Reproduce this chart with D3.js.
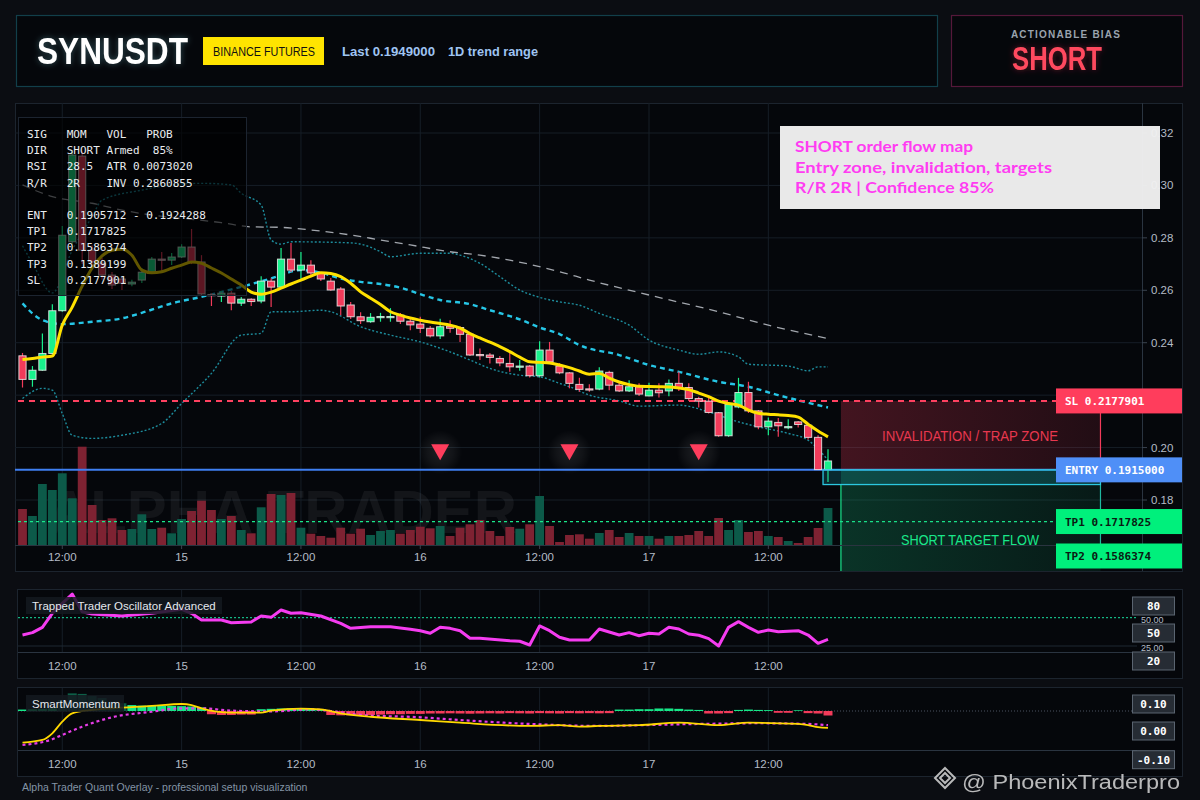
<!DOCTYPE html>
<html>
<head>
<meta charset="utf-8">
<script src="https://cdn.jsdelivr.net/npm/d3@7"></script>
<style>
body{margin:0;background:#0b0d12;}
svg{display:block;font-family:"Liberation Sans",Arial,sans-serif;}
</style>
</head>
<body>
<svg id="chart"></svg>
<script>
// hourly candles
var open  = [0.2350,0.2260,0.2295,0.2359,0.2522,0.2785,0.3112,0.2753,0.2704,0.2658,
             0.2643,0.2624,0.2639,0.2669,0.2719,0.2715,0.2727,0.2765,0.2708,0.2584,
             0.2578,0.2589,0.2551,0.2566,0.2559,0.2635,0.2612,0.2719,0.2677,0.2696,
             0.2666,0.2635,0.2605,0.2544,0.2499,0.2480,0.2499,0.2498,0.2505,0.2482,
             0.2471,0.2455,0.2426,0.2463,0.2458,0.2432,0.2355,0.2353,0.2340,0.2321,
             0.2310,0.2311,0.2274,0.2372,0.2311,0.2285,0.2241,0.2224,0.2223,0.2287,
             0.2238,0.2216,0.2232,0.2197,0.2219,0.2216,0.2245,0.2229,0.2187,0.2177,
             0.2133,0.2045,0.2155,0.2210,0.2140,0.2079,0.2096,0.2078,0.2098,0.2085,
             0.2039,0.1916]
var high  = [0.2361,0.2311,0.2435,0.2547,0.2845,0.3135,0.3130,0.2772,0.2723,0.2670,
             0.2650,0.2640,0.2685,0.2727,0.2746,0.2742,0.2776,0.2834,0.2734,0.2589,
             0.2597,0.2597,0.2574,0.2570,0.2654,0.2646,0.2761,0.2780,0.2746,0.2715,
             0.2670,0.2647,0.2613,0.2555,0.2516,0.2513,0.2514,0.2532,0.2513,0.2494,
             0.2499,0.2464,0.2491,0.2486,0.2463,0.2437,0.2378,0.2361,0.2349,0.2361,
             0.2334,0.2315,0.2406,0.2403,0.2322,0.2288,0.2266,0.2242,0.2306,0.2293,
             0.2246,0.2257,0.2245,0.2247,0.2245,0.2260,0.2289,0.2245,0.2194,0.2194,
             0.2136,0.2166,0.2266,0.2251,0.2143,0.2115,0.2113,0.2108,0.2101,0.2088,
             0.2047,0.1994]
var low   = [0.2229,0.2232,0.2293,0.2355,0.2518,0.2775,0.2700,0.2688,0.2640,0.2605,
             0.2601,0.2615,0.2628,0.2665,0.2669,0.2696,0.2723,0.2700,0.2582,0.2540,
             0.2555,0.2524,0.2540,0.2540,0.2551,0.2536,0.2608,0.2670,0.2643,0.2650,
             0.2635,0.2598,0.2505,0.2490,0.2471,0.2476,0.2480,0.2480,0.2471,0.2448,
             0.2437,0.2420,0.2414,0.2438,0.2403,0.2349,0.2334,0.2321,0.2310,0.2289,
             0.2293,0.2267,0.2267,0.2320,0.2280,0.2226,0.2213,0.2213,0.2219,0.2219,
             0.2212,0.2212,0.2197,0.2196,0.2191,0.2196,0.2216,0.2178,0.2153,0.2130,
             0.2041,0.2041,0.2150,0.2132,0.2070,0.2047,0.2041,0.2070,0.2077,0.2031,
             0.1914,0.1869]
var close = [0.2260,0.2295,0.2359,0.2522,0.2810,0.3116,0.2753,0.2708,0.2658,0.2620,
             0.2627,0.2631,0.2669,0.2719,0.2717,0.2727,0.2765,0.2708,0.2586,0.2582,
             0.2589,0.2551,0.2566,0.2557,0.2635,0.2612,0.2719,0.2677,0.2696,0.2666,
             0.2643,0.2601,0.2540,0.2499,0.2484,0.2497,0.2500,0.2500,0.2482,0.2468,
             0.2455,0.2426,0.2461,0.2455,0.2432,0.2353,0.2353,0.2344,0.2323,0.2308,
             0.2311,0.2274,0.2372,0.2327,0.2285,0.2245,0.2222,0.2223,0.2292,0.2238,
             0.2216,0.2232,0.2204,0.2219,0.2209,0.2245,0.2229,0.2187,0.2177,0.2134,
             0.2045,0.2164,0.2210,0.2140,0.2079,0.2101,0.2083,0.2080,0.2088,0.2039,
             0.1916,0.1949]
var volume = [360,290,610,550,717,467,983,400,250,267,
              150,160,307,160,173,117,260,340,443,350,
              260,290,150,117,377,510,500,520,173,113,
              90,73,173,113,163,100,140,150,113,150,
              183,167,190,90,173,207,250,140,90,180,
              163,207,490,190,30,100,107,63,120,150,
              80,120,90,90,63,90,90,100,140,90,
              270,150,250,130,140,90,80,40,20,80,
              170,370]

// yellow fast average, one value per candle
var fastMa = [0.2336,0.2340,0.2345,0.2349,0.2467,0.2536,0.2616,0.2685,0.2731,0.2753,
              0.2757,0.2734,0.2677,0.2667,0.2671,0.2684,0.2696,0.2708,0.2703,0.2685,
              0.2666,0.2643,0.2620,0.2593,0.2585,0.2593,0.2608,0.2624,0.2639,0.2654,
              0.2667,0.2664,0.2652,0.2627,0.2594,0.2570,0.2546,0.2518,0.2505,0.2494,
              0.2486,0.2479,0.2473,0.2467,0.2456,0.2435,0.2418,0.2402,0.2385,0.2366,
              0.2345,0.2327,0.2325,0.2323,0.2315,0.2305,0.2292,0.2280,0.2283,0.2265,
              0.2250,0.2240,0.2234,0.2233,0.2232,0.2231,0.2227,0.2221,0.2208,0.2194,
              0.2177,0.2168,0.2162,0.2143,0.2131,0.2127,0.2125,0.2122,0.2116,0.2089,
              0.2063,0.2041]

// [candle index, price] vertices
var midBand = [[0,0.2550],[2,0.2486],[4,0.2471],[7,0.2480],[10,0.2493],[12,0.2514],[15,0.2550],
  [18,0.2575],[22,0.2613],[25,0.2645],[28,0.2677],[30,0.2667],[32,0.2645],[34,0.2632],[36,0.2624],
  [38,0.2610],[40,0.2585],[42,0.2563],[45,0.2547],[47,0.2524],[50,0.2489],[52,0.2458],[54,0.2433],
  [56,0.2391],[60,0.2353],[63,0.2315],[66,0.2289],[70,0.2251],[73,0.2232],[76,0.2200],[79,0.2171],[81,0.2153]]
var upperBand = [[0,0.2770],[1,0.2703],[3,0.2590],[5,0.2753],[7,0.2881],[8,0.2944],[12,0.2982],
  [15,0.3002],[18,0.3008],[21,0.3002],[22,0.2970],[24,0.2925],[25,0.2792],[26,0.2776],[27,0.2785],
  [33,0.2781],[34,0.2776],[36,0.2747],[37,0.2728],[40,0.2741],[43,0.2741],[44,0.2734],[46,0.2703],
  [48,0.2652],[50,0.2601],[52,0.2573],[54,0.2556],[56,0.2543],[58,0.2512],[61,0.2467],[63,0.2410],
  [66,0.2372],[68,0.2356],[70,0.2365],[72,0.2346],[73,0.2318],[77,0.2311],[79,0.2293],[80,0.2308],[81,0.2308]]
var lowerBand = [[0,0.2187],[2,0.2226],[3,0.2219],[4,0.2130],[5,0.2047],[7,0.2035],[10,0.2047],
  [14,0.2092],[16,0.2168],[19,0.2283],[22,0.2429],[24,0.2436],[25,0.2518],[27,0.2518],[30,0.2524],
  [31,0.2518],[34,0.2461],[37,0.2429],[40,0.2403],[43,0.2365],[45,0.2334],[47,0.2302],[50,0.2276],
  [52,0.2270],[54,0.2245],[55,0.2232],[57,0.2200],[60,0.2178],[62,0.2158],[66,0.2162],[69,0.2136],
  [72,0.2098],[74,0.2079],[77,0.2054],[79,0.2028],[81,0.1952]]
var slowMa = [[0,0.3002],[3,0.2957],[7,0.2932],[10,0.2906],[13,0.2887],[17,0.2871],[20,0.2858],
  [23,0.2842],[26,0.2840],[29,0.2830],[33,0.2811],[36,0.2792],[39,0.2773],[43,0.2747],[46,0.2734],
  [49,0.2715],[54,0.2671],[57,0.2639],[63,0.2582],[70,0.2518],[75,0.2467],[81,0.2416]]

// trapped trader oscillator
var oscPoints = [[0,34.7],[1,36.8],[2,41.5],[3,53.9],[4,62.7],[5,70.9],[6,55.3],[7,53.3],[10,51.5],
  [13,53.9],[16,57.4],[17,53.9],[18,48],[20,48],[21,45.6],[23,46.2],[24,51.5],[25,50.3],[26,56.8],
  [27,53.9],[28,54.4],[30,51.5],[32,45],[33,40.6],[35,42],[37,42],[39,39.7],[40,38.5],[41,36.2],
  [42,41.5],[43,40.6],[44,38.5],[45,31.8],[46,31.8],[49,29.7],[50,29.2],[51,25.9],[52,42.7],[53,38.5],
  [54,32.7],[55,30.3],[57,30.3],[58,40.0],[60,34.7],[61,36.8],[62,34.1],[63,36.2],[64,35.6],[65,41.5],
  [66,40],[67,35.6],[68,34.5],[69,31.5],[70,25],[71,41.5],[72,46.5],[73,41.5],[74,37.1],[75,39.1],
  [76,37.6],[78,38.5],[79,34.7],[80,27.4],[81,30.9]]

// smart momentum
var momHist = [0.008,0.010,0.012,0.015,0.061,0.098,0.095,0.083,0.072,0.052,
               0.043,0.033,0.030,0.030,0.028,0.028,0.027,0.025,0.020,-0.018,
               -0.022,-0.022,-0.020,-0.020,0.010,0.012,0.014,0.015,0.014,0.012,
               0.010,-0.022,-0.024,-0.024,-0.022,-0.022,-0.020,-0.018,-0.018,-0.016,
               -0.016,-0.014,-0.014,-0.013,-0.014,-0.015,-0.014,-0.013,-0.014,-0.012,
               -0.013,-0.014,-0.012,-0.013,-0.014,-0.012,-0.013,-0.012,-0.013,-0.012,
               0.008,0.008,0.010,0.010,0.014,0.014,0.012,0.008,0.006,-0.014,
               -0.014,-0.012,0.006,0.008,0.006,0.005,-0.010,-0.010,0.004,-0.012,
               -0.014,-0.025]
var momFast = [[0,-0.176],[2,-0.161],[3,-0.124],[4,-0.059],[5,-0.013],[7,0.006],[9,0.015],[13,0.028],
  [16,0.039],[17,0.033],[18,0.015],[21,-0.009],[24,-0.009],[25,0.002],[28,0.013],[30,0.009],[32,-0.013],
  [35,-0.032],[40,-0.05],[44,-0.065],[51,-0.083],[54,-0.078],[56,-0.087],[58,-0.083],[62,-0.079],
  [66,-0.065],[70,-0.079],[73,-0.065],[78,-0.072],[79,-0.078],[80,-0.090],[81,-0.094]]
var momSlow = [[0,-0.189],[3,-0.157],[4,-0.133],[6,-0.087],[9,-0.035],[13,-0.004],[16,0.015],[18,0.015],
  [21,0.002],[25,-0.002],[29,0.009],[31,0],[34,-0.022],[40,-0.035],[44,-0.05],[51,-0.072],[58,-0.083],
  [62,-0.079],[68,-0.072],[74,-0.068],[79,-0.072],[81,-0.079]]

// time axis
var tickIdx = [4,16,28,40,52,63,75]
var tickLabels = ["12:00","15","12:00","16","12:00","17","12:00"]
var priceTicks = [0.18,0.20,0.22,0.24,0.26,0.28,0.30,0.32]

// setup levels
var slPrice = 0.2177901
var entryPrice = 0.1915000
var tp1Price = 0.1717825
var tp2Price = 0.1586374
var tp3Price = 0.1389199
var entryBox = [0.1859, 0.1915]
var zoneBars = [82.3, 108.4]
var entryBoxBars = [80.5, 108.4]
var signalIdx = [42, 55, 68]
var signalPrice = 0.1982

var infoRows = ["SIG   MOM   VOL   PROB",
                "DIR   SHORT Armed  85%",
                "RSI   28.5  ATR 0.0073020",
                "R/R   2R    INV 0.2860855",
                "",
                "ENT   0.1905712 - 0.1924288",
                "TP1   0.1717825",
                "TP2   0.1586374",
                "TP3   0.1389199",
                "SL    0.2177901"]
var noteRows = ["SHORT order flow map", "Entry zone, invalidation, targets", "R/R 2R | Confidence 85%"]
var noteLens = [178, 257, 199]


var upCol = "#19f08c"
var downCol = "#f23b5a"
var gridCol = "#161e27"
var labelCol = "#b4bcc6"

var svg = d3.select("#chart").attr("width", 1200).attr("height", 800)
var defs = svg.append("defs")

var x = d3.scaleLinear().domain([0, 81]).range([22.5, 828])
var y = d3.scaleLinear().domain([0.18, 0.32]).range([500, 133])
var yVol = d3.scaleLinear().domain([0, 1000]).range([545, 445])
var yOsc = d3.scaleLinear().domain([25, 50]).range([646, 617.7])
var yMom = d3.scaleLinear().domain([0, 0.1]).range([711, 693])

defs.append("clipPath").attr("id", "plotClip").append("rect")
	.attr("x", 15).attr("y", 103).attr("width", 1127).attr("height", 442)
defs.append("clipPath").attr("id", "paneClip").append("rect")
	.attr("x", 15).attr("y", 103).attr("width", 1168).attr("height", 468)

function makeGlow(id, dev, col, op) {
	var f = defs.append("filter").attr("id", id).attr("x", "-20%").attr("y", "-40%").attr("width", "140%").attr("height", "180%")
	f.append("feGaussianBlur").attr("in", "SourceAlpha").attr("stdDeviation", dev).attr("result", "b")
	f.append("feFlood").attr("flood-color", col).attr("flood-opacity", op)
	f.append("feComposite").attr("in2", "b").attr("operator", "in").attr("result", "g")
	var m = f.append("feMerge")
	m.append("feMergeNode").attr("in", "g")
	m.append("feMergeNode").attr("in", "SourceGraphic")
}
makeGlow("glowW", 3, "#7fd8e8", 0.35)
makeGlow("glowR", 3, "#ff3050", 0.35)

var halo = defs.append("radialGradient").attr("id", "halo")
halo.append("stop").attr("offset", "0%").attr("stop-color", "#ffffff").attr("stop-opacity", 0.10)
halo.append("stop").attr("offset", "60%").attr("stop-color", "#ffffff").attr("stop-opacity", 0.05)
halo.append("stop").attr("offset", "100%").attr("stop-color", "#ffffff").attr("stop-opacity", 0)

var redZoneGrad = defs.append("linearGradient").attr("id", "redZone")
redZoneGrad.append("stop").attr("offset", "0%").attr("stop-color", "#f23b5a").attr("stop-opacity", 0.26)
redZoneGrad.append("stop").attr("offset", "100%").attr("stop-color", "#f23b5a").attr("stop-opacity", 0.12)
var greenZoneGrad = defs.append("linearGradient").attr("id", "greenZone")
greenZoneGrad.append("stop").attr("offset", "0%").attr("stop-color", "#19c080").attr("stop-opacity", 0.24)
greenZoneGrad.append("stop").attr("offset", "100%").attr("stop-color", "#19c080").attr("stop-opacity", 0.10)


// ---------- header ----------
svg.append("rect").attr("x", 16.5).attr("y", 15.5).attr("width", 921).attr("height", 71)
	.attr("fill", "#05070b").attr("stroke", "#123f4a").attr("stroke-width", 1.2)
svg.append("text").attr("x", 37).attr("y", 64).attr("fill", "#ffffff")
	.attr("font-size", 36).attr("font-weight", "bold").attr("font-family", "'Liberation Sans Narrow','Liberation Sans',sans-serif")
	.attr("textLength", 151).attr("lengthAdjust", "spacingAndGlyphs")
	.attr("filter", "url(#glowW)").text("SYNUSDT")
svg.append("rect").attr("x", 203).attr("y", 37).attr("width", 121).attr("height", 28).attr("fill", "#ffe400")
svg.append("text").attr("x", 213).attr("y", 56).attr("fill", "#111").attr("font-size", 13)
	.attr("textLength", 102).attr("lengthAdjust", "spacingAndGlyphs").text("BINANCE FUTURES")
svg.append("text").attr("x", 342).attr("y", 56).attr("fill", "#9fc4f2").attr("font-size", 13).attr("font-weight", "bold")
	.attr("textLength", 93).attr("lengthAdjust", "spacingAndGlyphs").text("Last 0.1949000")
svg.append("text").attr("x", 448).attr("y", 56).attr("fill", "#9fc4f2").attr("font-size", 13).attr("font-weight", "bold")
	.attr("textLength", 90).attr("lengthAdjust", "spacingAndGlyphs").text("1D trend range")

svg.append("rect").attr("x", 951.5).attr("y", 15.5).attr("width", 231).attr("height", 71)
	.attr("fill", "#05070b").attr("stroke", "#55183a").attr("stroke-width", 1.2)
svg.append("text").attr("x", 1066).attr("y", 38).attr("text-anchor", "middle").attr("fill", "#9aa3ae")
	.attr("font-size", 10).attr("font-weight", "bold").attr("letter-spacing", 1.2).text("ACTIONABLE BIAS")
svg.append("text").attr("x", 1012).attr("y", 70).attr("fill", "#ff4a5e").attr("font-size", 34).attr("font-weight", "bold")
	.attr("font-family", "'Liberation Sans Narrow','Liberation Sans',sans-serif")
	.attr("textLength", 90).attr("lengthAdjust", "spacingAndGlyphs").attr("filter", "url(#glowR)").text("SHORT")


// ---------- price pane ----------
svg.append("rect").attr("x", 15.5).attr("y", 103.5).attr("width", 1167).attr("height", 468)
	.attr("fill", "#05070b").attr("stroke", "#1c242e")

var plot = svg.append("g").attr("clip-path", "url(#plotClip)")

plot.selectAll(".hgrid").data(priceTicks).join("line")
	.attr("x1", 15).attr("x2", 1142)
	.attr("y1", function(d){ return y(d) }).attr("y2", function(d){ return y(d) })
	.attr("stroke", gridCol)
plot.selectAll(".vgrid").data(tickIdx).join("line")
	.attr("x1", function(d){ return x(d) }).attr("x2", function(d){ return x(d) })
	.attr("y1", 103).attr("y2", 545).attr("stroke", gridCol)

// watermark
plot.append("text").attr("x", 47).attr("y", 533).attr("fill", "#ffffff").attr("fill-opacity", 0.06)
	.attr("font-size", 62).attr("font-weight", "bold")
	.attr("textLength", 470).attr("lengthAdjust", "spacingAndGlyphs").text("ALPHA TRADER")

// volume
plot.selectAll(".vol").data(volume).join("rect")
	.attr("x", function(d, i){ return x(i) - 4.4 })
	.attr("width", 8.8)
	.attr("y", function(d){ return yVol(d) })
	.attr("height", function(d){ return 545 - yVol(d) })
	.attr("fill", function(d, i){ return close[i] >= open[i] ? "#0c5a49" : "#7e2232" })

// bands and averages
var pairLine = d3.line()
	.x(function(d){ return x(d[0]) })
	.y(function(d){ return y(d[1]) })
	.curve(d3.curveMonotoneX)

plot.append("path").datum(upperBand).attr("d", pairLine).attr("fill", "none")
	.attr("stroke", "#1d8c9c").attr("stroke-width", 1.4).attr("stroke-dasharray", "2,2")
plot.append("path").datum(lowerBand).attr("d", pairLine).attr("fill", "none")
	.attr("stroke", "#1d8c9c").attr("stroke-width", 1.4).attr("stroke-dasharray", "2,2")
plot.append("path").datum(slowMa).attr("d", pairLine).attr("fill", "none")
	.attr("stroke", "#c9ced6").attr("stroke-opacity", 0.8).attr("stroke-width", 1.3).attr("stroke-dasharray", "8,6")
plot.append("path").datum(midBand).attr("d", pairLine).attr("fill", "none")
	.attr("stroke", "#26c6e6").attr("stroke-width", 2.4).attr("stroke-dasharray", "5,4")

// level lines
plot.append("line").attr("x1", 18).attr("x2", 1056).attr("y1", y(slPrice)).attr("y2", y(slPrice))
	.attr("stroke", "#ff4160").attr("stroke-width", 2).attr("stroke-dasharray", "6,5")
plot.append("line").attr("x1", 15).attr("x2", 1056).attr("y1", y(entryPrice)).attr("y2", y(entryPrice))
	.attr("stroke", "#3f7ff2").attr("stroke-width", 2)
plot.append("line").attr("x1", 18).attr("x2", 1056).attr("y1", y(tp1Price)).attr("y2", y(tp1Price))
	.attr("stroke", "#19e88a").attr("stroke-width", 1.3).attr("stroke-dasharray", "3,3")

// candles
var cg = plot.append("g")
cg.selectAll(".wick").data(open).join("line")
	.attr("x1", function(d, i){ return x(i) }).attr("x2", function(d, i){ return x(i) })
	.attr("y1", function(d, i){ return y(high[i]) }).attr("y2", function(d, i){ return y(low[i]) })
	.attr("stroke", function(d, i){ return close[i] >= open[i] ? upCol : downCol })
	.attr("stroke-width", 1.2)
cg.selectAll(".body").data(open).join("rect")
	.attr("x", function(d, i){ return x(i) - 3.6 })
	.attr("width", 7.2)
	.attr("y", function(d, i){ return y(Math.max(open[i], close[i])) })
	.attr("height", function(d, i){ return Math.max(1.2, Math.abs(y(open[i]) - y(close[i]))) })
	.attr("fill", function(d, i){ return close[i] >= open[i] ? upCol : downCol })
	.attr("stroke", "#f4f4f4").attr("stroke-opacity", 0.8).attr("stroke-width", 1)

// fast average
plot.append("path").datum(fastMa)
	.attr("d", d3.line().x(function(d, i){ return x(i) }).y(function(d){ return y(d) }).curve(d3.curveMonotoneX))
	.attr("fill", "none").attr("stroke", "#ffe100").attr("stroke-width", 3).attr("stroke-linejoin", "round")

// signal markers
var sig = plot.selectAll(".sig").data(signalIdx).join("g")
	.attr("transform", function(d){ return "translate(" + x(d) + "," + y(signalPrice) + ")" })
sig.append("circle").attr("r", 22).attr("fill", "url(#halo)")
sig.append("path").attr("d", "M-9,-8L9,-8L0,8Z").attr("fill", "#ff3d5c")

// info panel
svg.append("rect").attr("x", 18.5).attr("y", 117.5).attr("width", 228).attr("height", 178)
	.attr("fill", "#000000").attr("fill-opacity", 0.62).attr("stroke", "#1c2430")
svg.append("g").selectAll("text").data(infoRows).join("text")
	.attr("x", 27).attr("y", function(d, i){ return 138 + i * 16.2 })
	.attr("fill", "#e9ecef").attr("font-size", 11)
	.attr("font-family", "'DejaVu Sans Mono',monospace")
	.attr("xml:space", "preserve").style("white-space", "pre")
	.text(function(d){ return d })

// zones
var zones = svg.append("g").attr("clip-path", "url(#paneClip)")
zones.append("rect").attr("x", x(zoneBars[0])).attr("width", x(zoneBars[1]) - x(zoneBars[0]))
	.attr("y", y(slPrice)).attr("height", y(entryPrice) - y(slPrice)).attr("fill", "url(#redZone)")
zones.append("rect").attr("x", x(zoneBars[0])).attr("width", x(zoneBars[1]) - x(zoneBars[0]))
	.attr("y", y(entryPrice)).attr("height", y(tp3Price) - y(entryPrice)).attr("fill", "url(#greenZone)")
zones.append("line").attr("x1", x(zoneBars[1])).attr("x2", x(zoneBars[1]))
	.attr("y1", y(slPrice)).attr("y2", y(entryPrice)).attr("stroke", "#f23b5a").attr("stroke-width", 1.2)
zones.append("line").attr("x1", x(zoneBars[1])).attr("x2", x(zoneBars[1]))
	.attr("y1", y(entryBox[0])).attr("y2", 545).attr("stroke", "#1fb8a0").attr("stroke-width", 1.2)
zones.append("line").attr("x1", x(zoneBars[0])).attr("x2", x(zoneBars[0]))
	.attr("y1", y(entryBox[0])).attr("y2", 571).attr("stroke", "#19e08a").attr("stroke-width", 1.2)
zones.append("rect").attr("x", x(entryBoxBars[0])).attr("width", x(entryBoxBars[1]) - x(entryBoxBars[0]))
	.attr("y", y(entryBox[1])).attr("height", y(entryBox[0]) - y(entryBox[1]))
	.attr("fill", "#1aa4b4").attr("fill-opacity", 0.22).attr("stroke", "#2cc8e0").attr("stroke-width", 1.3)
zones.append("text").attr("x", 970).attr("y", (y(slPrice) + y(entryPrice)) / 2 + 6)
	.attr("text-anchor", "middle").attr("fill", "#e8384f").attr("font-size", 15)
	.attr("textLength", 176).attr("lengthAdjust", "spacingAndGlyphs").text("INVALIDATION / TRAP ZONE")
zones.append("text").attr("x", 970).attr("y", y(tp1Price) + 23)
	.attr("text-anchor", "middle").attr("fill", "#19e88a").attr("font-size", 15)
	.attr("textLength", 138).attr("lengthAdjust", "spacingAndGlyphs").text("SHORT TARGET FLOW")

// price axis
svg.append("line").attr("x1", 1142.5).attr("x2", 1142.5).attr("y1", 103).attr("y2", 571).attr("stroke", "#2a3440")
svg.append("line").attr("x1", 15).attr("x2", 1142).attr("y1", 545.5).attr("y2", 545.5).attr("stroke", "#2a3440")
var pa = svg.append("g")
pa.selectAll("line").data(priceTicks).join("line")
	.attr("x1", 1142).attr("x2", 1147)
	.attr("y1", function(d){ return y(d) }).attr("y2", function(d){ return y(d) }).attr("stroke", "#3a4450")
pa.selectAll("text").data(priceTicks).join("text")
	.attr("x", 1151).attr("y", function(d){ return y(d) + 4 })
	.attr("fill", labelCol).attr("font-size", 11.5)
	.text(function(d){ return d.toFixed(2) })

// time axis
var ta = svg.append("g")
ta.selectAll("line").data(tickIdx).join("line")
	.attr("x1", function(d){ return x(d) }).attr("x2", function(d){ return x(d) })
	.attr("y1", 545).attr("y2", 549).attr("stroke", "#3a4450")
ta.selectAll("text").data(tickIdx).join("text")
	.attr("x", function(d){ return x(d) }).attr("y", 561).attr("text-anchor", "middle")
	.attr("fill", labelCol).attr("font-size", 11.5)
	.text(function(d, i){ return tickLabels[i] })

// level labels
var levels = [
	{t: "SL 0.2177901", p: slPrice, bg: "#ff3d5c", fg: "#ffffff"},
	{t: "ENTRY 0.1915000", p: entryPrice, bg: "#4f8ff7", fg: "#ffffff"},
	{t: "TP1 0.1717825", p: tp1Price, bg: "#00f07c", fg: "#0a1a12"},
	{t: "TP2 0.1586374", p: tp2Price, bg: "#00f07c", fg: "#0a1a12"}
]
var lv = svg.selectAll(".lvl").data(levels).join("g")
lv.append("rect").attr("x", 1056).attr("width", 126).attr("y", function(d){ return y(d.p) - 12.5 }).attr("height", 25)
	.attr("fill", function(d){ return d.bg })
lv.append("text").attr("x", 1065).attr("y", function(d){ return y(d.p) + 4 })
	.attr("fill", function(d){ return d.fg }).attr("font-size", 11).attr("font-weight", "bold")
	.attr("font-family", "'DejaVu Sans Mono',monospace").text(function(d){ return d.t })

// note box
svg.append("rect").attr("x", 780).attr("y", 126).attr("width", 380).attr("height", 83)
	.attr("fill", "#f1f1f1").attr("fill-opacity", 0.97)
svg.append("g").selectAll("text").data(noteRows).join("text")
	.attr("x", 795).attr("y", function(d, i){ return 152 + i * 20.5 })
	.attr("fill", "#ff3cf2").attr("font-size", 15.5).attr("font-family", "Lato,'Open Sans',sans-serif").attr("font-weight", "bold")
	.attr("textLength", function(d, i){ return noteLens[i] }).attr("lengthAdjust", "spacingAndGlyphs")
	.text(function(d){ return d })


// ---------- oscillator pane ----------
svg.append("rect").attr("x", 17.5).attr("y", 589.5).attr("width", 1165).attr("height", 89)
	.attr("fill", "#05070b").attr("stroke", "#1c242e")
var og = svg.append("g")
og.selectAll(".vg").data(tickIdx).join("line")
	.attr("x1", function(d){ return x(d) }).attr("x2", function(d){ return x(d) })
	.attr("y1", 590).attr("y2", 652).attr("stroke", gridCol)
og.append("line").attr("x1", 18).attr("x2", 1137).attr("y1", yOsc(25)).attr("y2", yOsc(25)).attr("stroke", "#1f2832")
og.append("line").attr("x1", 18).attr("x2", 1137).attr("y1", 652.5).attr("y2", 652.5).attr("stroke", "#2a3440")
og.append("line").attr("x1", 18).attr("x2", 1137).attr("y1", yOsc(50)).attr("y2", yOsc(50))
	.attr("stroke", "#19e0a0").attr("stroke-width", 1).attr("stroke-dasharray", "2,2")
og.selectAll(".ol").data([25, 50]).join("text")
	.attr("x", 1141).attr("y", function(d){ return yOsc(d) + 5 }).attr("fill", labelCol).attr("font-size", 9)
	.text(function(d){ return d.toFixed(2) })
og.append("path").datum(oscPoints)
	.attr("d", d3.line().x(function(d){ return x(d[0]) }).y(function(d){ return yOsc(d[1]) }))
	.attr("fill", "none").attr("stroke", "#f53cf0").attr("stroke-width", 3).attr("stroke-linejoin", "round")
og.append("rect").attr("x", 26).attr("y", 597).attr("width", 196).attr("height", 17).attr("fill", "#141920").attr("fill-opacity", 0.85)
og.append("text").attr("x", 32).attr("y", 609.5).attr("fill", "#e4e8ee").attr("font-size", 11.5)
	.text("Trapped Trader Oscillator Advanced")
og.selectAll(".ot").data(tickIdx).join("text")
	.attr("x", function(d){ return x(d) }).attr("y", 670).attr("text-anchor", "middle")
	.attr("fill", labelCol).attr("font-size", 11.5)
	.text(function(d, i){ return tickLabels[i] })


// ---------- momentum pane ----------
svg.append("rect").attr("x", 17.5).attr("y", 687.5).attr("width", 1165).attr("height", 89)
	.attr("fill", "#05070b").attr("stroke", "#1c242e")
var mg = svg.append("g")
mg.selectAll(".vg").data(tickIdx).join("line")
	.attr("x1", function(d){ return x(d) }).attr("x2", function(d){ return x(d) })
	.attr("y1", 688).attr("y2", 750).attr("stroke", gridCol)
mg.append("line").attr("x1", 18).attr("x2", 1137).attr("y1", 750.5).attr("y2", 750.5).attr("stroke", "#2a3440")
mg.append("line").attr("x1", 18).attr("x2", 1137).attr("y1", yMom(0)).attr("y2", yMom(0))
	.attr("stroke", "#4a5260").attr("stroke-dasharray", "1,2")
mg.selectAll(".mh").data(momHist).join("rect")
	.attr("x", function(d, i){ return x(i) - 4.5 })
	.attr("width", 9)
	.attr("y", function(d){ return d >= 0 ? yMom(d) : yMom(0) })
	.attr("height", function(d){ return Math.abs(yMom(d) - yMom(0)) })
	.attr("fill", function(d){ return d < 0 ? "#f23b5a" : (d >= 0.04 ? "#0d5e47" : "#16e888") })
mg.append("path").datum(momSlow)
	.attr("d", d3.line().x(function(d){ return x(d[0]) }).y(function(d){ return yMom(d[1]) }).curve(d3.curveMonotoneX))
	.attr("fill", "none").attr("stroke", "#e83ce8").attr("stroke-width", 2.2).attr("stroke-dasharray", "3,3")
mg.append("path").datum(momFast)
	.attr("d", d3.line().x(function(d){ return x(d[0]) }).y(function(d){ return yMom(d[1]) }).curve(d3.curveMonotoneX))
	.attr("fill", "none").attr("stroke", "#ffd800").attr("stroke-width", 1.8)
mg.append("rect").attr("x", 26).attr("y", 695).attr("width", 98).attr("height", 17).attr("fill", "#141920").attr("fill-opacity", 0.85)
mg.append("text").attr("x", 32).attr("y", 707.5).attr("fill", "#e4e8ee").attr("font-size", 11.5).text("SmartMomentum")
mg.selectAll(".mt").data(tickIdx).join("text")
	.attr("x", function(d){ return x(d) }).attr("y", 768).attr("text-anchor", "middle")
	.attr("fill", labelCol).attr("font-size", 11.5)
	.text(function(d, i){ return tickLabels[i] })

// value boxes on the sub panes
var boxes = [
	{t: "80", cy: 606}, {t: "50", cy: 633}, {t: "20", cy: 661},
	{t: "0.10", cy: 704}, {t: "0.00", cy: 731}, {t: "-0.10", cy: 759.7}
]
var bx = svg.selectAll(".vbox").data(boxes).join("g")
bx.append("rect").attr("x", 1132.5).attr("width", 42).attr("y", function(d){ return d.cy - 9 }).attr("height", 18)
	.attr("fill", "#262c34").attr("stroke", "#5a6470")
bx.append("text").attr("x", 1153.5).attr("y", function(d){ return d.cy + 4 }).attr("text-anchor", "middle")
	.attr("fill", "#ffffff").attr("font-size", 11).attr("font-weight", "bold")
	.attr("font-family", "'DejaVu Sans Mono',monospace").text(function(d){ return d.t })

// footer
svg.append("text").attr("x", 22).attr("y", 791).attr("fill", "#8394a6").attr("font-size", 10.5)
	.text("Alpha Trader Quant Overlay - professional setup visualization")

var wm = svg.append("g").attr("opacity", 0.85)
wm.append("path").attr("d", "M945,768 L955,778 L945,788 L935,778 Z M945,773 L950,778 L945,783 L940,778 Z")
	.attr("fill", "none").attr("stroke", "#d8d8d8").attr("stroke-width", 2)
wm.append("text").attr("x", 962).attr("y", 789).attr("fill", "#d8d8d8").attr("font-size", 20)
	.attr("textLength", 218).attr("lengthAdjust", "spacingAndGlyphs").text("@ PhoenixTraderpro")
</script>
</body>
</html>
